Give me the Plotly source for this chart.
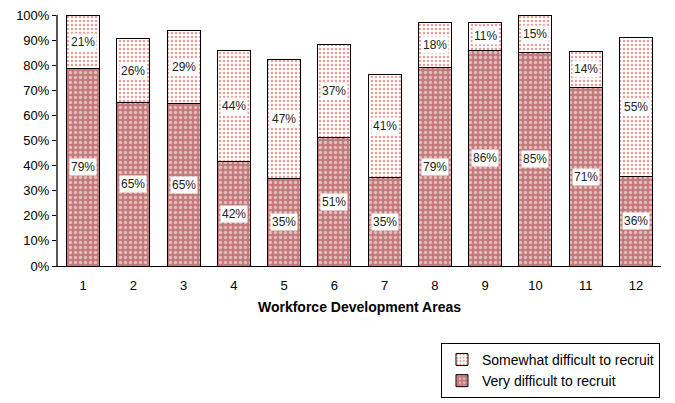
import plotly.graph_objects as go

areas = ["1", "2", "3", "4", "5", "6", "7", "8", "9", "10", "11", "12"]
very = [78.6, 65.0, 64.6, 41.7, 34.8, 51.0, 35.3, 79.2, 86.0, 85.0, 71.3, 35.6]
somewhat = [21.4, 25.6, 29.1, 44.3, 47.3, 37.4, 40.9, 17.8, 11.0, 15.0, 14.2, 55.4]

fig = go.Figure()

fig.add_trace(
    go.Bar(
        x=areas,
        y=very,
        name="Very difficult to recruit",
        marker=dict(
            color="#c47a7a",
            line=dict(color="black", width=1),
            pattern=dict(shape=".", fgcolor="white", bgcolor="#c47a7a",
                         size=5, solidity=0.35, fillmode="overlay"),
        ),
    )
)
fig.add_trace(
    go.Bar(
        x=areas,
        y=somewhat,
        name="Somewhat difficult to recruit",
        marker=dict(
            color="white",
            line=dict(color="black", width=1),
            pattern=dict(shape=".", fgcolor="#d03a3a", bgcolor="white",
                         size=4, solidity=0.3, fillmode="overlay"),
        ),
    )
)

# percentage labels with white boxes (x given as category index)
for i, (v, s) in enumerate(zip(very, somewhat)):
    fig.add_annotation(x=i, y=v / 2, text=f"{round(v)}%", showarrow=False,
                       bgcolor="white", borderpad=1,
                       font=dict(family="Arial", size=12, color="#222"))
    fig.add_annotation(x=i, y=v + s / 2, text=f"{round(s)}%", showarrow=False,
                       bgcolor="white", borderpad=1,
                       font=dict(family="Arial", size=12, color="#222"))

# page body adds an 8px offset, so the figure is sized to fit the window
fig.update_layout(
    barmode="stack",
    bargap=0.34,
    width=667,
    height=395,
    paper_bgcolor="white",
    plot_bgcolor="white",
    margin=dict(l=50, r=14, t=7, b=137, autoexpand=False),
    font=dict(family="Arial", size=13, color="black"),
    showlegend=True,
    legend=dict(
        traceorder="reversed",
        xref="container", x=0.9775, xanchor="right",
        yref="container", y=0.013, yanchor="bottom",
        bordercolor="black", borderwidth=1,
        font=dict(family="Arial", size=14),
        itemwidth=30,
        tracegroupgap=0,
    ),
    xaxis=dict(
        title=dict(text="<b>Workforce Development Areas</b>",
                   font=dict(family="Arial", size=14), standoff=10),
        showline=True, linecolor="black", linewidth=1,
        ticks="outside", ticklen=7, tickcolor="white",
        tickfont=dict(size=13),
    ),
    yaxis=dict(
        range=[0, 100],
        dtick=10,
        ticksuffix="%",
        showgrid=False,
        showline=True, linecolor="#555", linewidth=2,
        ticks="outside", ticklen=4, tickcolor="black",
        tickfont=dict(size=13),
        ticklabeloverflow="allow",
        zeroline=False,
    ),
)

fig.write_html("out.html")
